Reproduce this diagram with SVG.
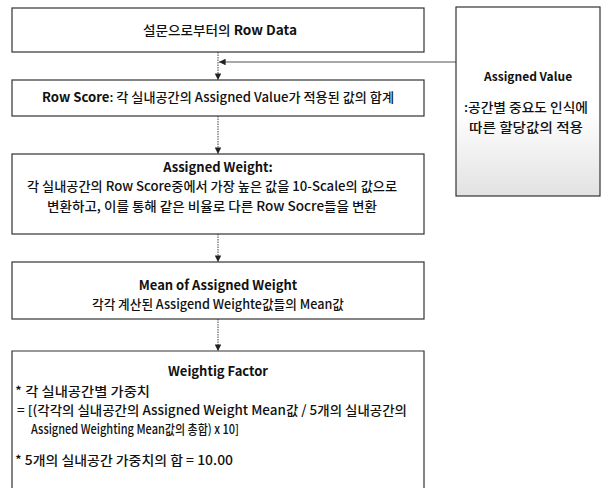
<svg xmlns="http://www.w3.org/2000/svg" width="602" height="488" viewBox="0 0 602 488">
<defs>
<style>
.box{fill:#fff;stroke:#333;stroke-width:1.2}
.t{font-family:"Noto Sans CJK KR","Noto Sans",sans-serif;font-size:13px;font-weight:500;fill:#111}
.b{font-weight:bold}
.c{text-anchor:middle}
.con{stroke:#555;stroke-width:1.1;fill:none}
.dot{stroke-dasharray:1.5,1}
</style>
<linearGradient id="g" x1="0" y1="0" x2="0" y2="1">
<stop offset="0.55" stop-color="#fff"/>
<stop offset="1" stop-color="#e2e2e2"/>
</linearGradient>
<marker id="ah" viewBox="0 0 10 10" refX="10" refY="5" markerWidth="6" markerHeight="6" orient="auto">
<path d="M0,0 L10,5 L0,10 z" fill="#222"/>
</marker>
</defs>
<g id="connectors">
<line class="con dot" x1="218" y1="52" x2="218" y2="80" marker-end="url(#ah)"/>
<line class="con" x1="456" y1="62" x2="219" y2="62" stroke="#222" marker-end="url(#ah)"/>
<line class="con dot" x1="218" y1="116" x2="218" y2="154" marker-end="url(#ah)"/>
<line class="con dot" x1="218" y1="234" x2="218" y2="262" marker-end="url(#ah)"/>
<line class="con dot" x1="218" y1="319" x2="218" y2="351" marker-end="url(#ah)"/>
</g>
<g id="n1">
<rect class="box" x="12" y="8" width="412" height="44"/>
<text class="t c" x="220" y="35" textLength="154" lengthAdjust="spacingAndGlyphs">설문으로부터의 <tspan class="b">Row Data</tspan></text>
</g>
<g id="n2">
<rect class="box" x="12" y="80" width="412" height="36"/>
<text class="t c" x="218" y="102" textLength="352" lengthAdjust="spacingAndGlyphs"><tspan class="b">Row Score</tspan>: 각 실내공간의 Assigned Value가 적용된 값의 합계</text>
</g>
<g id="n3">
<rect class="box" x="12" y="154" width="412" height="80"/>
<text class="t c b" x="218" y="172">Assigned Weight:</text>
<text class="t c" x="212" y="191" textLength="370" lengthAdjust="spacingAndGlyphs">각 실내공간의 Row Score중에서 가장 높은 값을 10-Scale의 값으로</text>
<text class="t c" x="212" y="211" textLength="330" lengthAdjust="spacingAndGlyphs">변환하고, 이를 통해 같은 비율로 다른 Row Socre들을 변환</text>
</g>
<g id="n4">
<rect class="box" x="12" y="262" width="412" height="57"/>
<text class="t c b" x="218" y="290">Mean of Assigned Weight</text>
<text class="t c" x="218" y="309" textLength="252" lengthAdjust="spacingAndGlyphs">각각 계산된 Assigend Weighte값들의 Mean값</text>
</g>
<g id="n5">
<path class="box" d="M12,488 L12,351 L424,351 L424,488"/>
<text class="t c b" x="218" y="376">Weightig Factor</text>
<text class="t" x="15" y="396" textLength="135" lengthAdjust="spacingAndGlyphs">* 각 실내공간별 가중치</text>
<text class="t" x="17" y="415" textLength="390" lengthAdjust="spacingAndGlyphs">= [(각각의 실내공간의 Assigned Weight Mean값 / 5개의 실내공간의</text>
<text class="t" x="31" y="434" textLength="208" lengthAdjust="spacingAndGlyphs">Assigned Weighting Mean값의 총합) x 10]</text>
<text class="t" x="15" y="465" textLength="218" lengthAdjust="spacingAndGlyphs">* 5개의 실내공간 가중치의 합 = 10.00</text>
</g>
<g id="n6">
<rect x="456" y="7" width="144" height="189" fill="url(#g)" stroke="#333" stroke-width="1.2"/>
<text class="t c b" x="528" y="81" style="font-size:12px">Assigned Value</text>
<text class="t c" x="526" y="112" textLength="124" lengthAdjust="spacingAndGlyphs">:공간별 중요도 인식에</text>
<text class="t c" x="526" y="132" textLength="114" lengthAdjust="spacingAndGlyphs">따른 할당값의 적용</text>
</g>
</svg>
